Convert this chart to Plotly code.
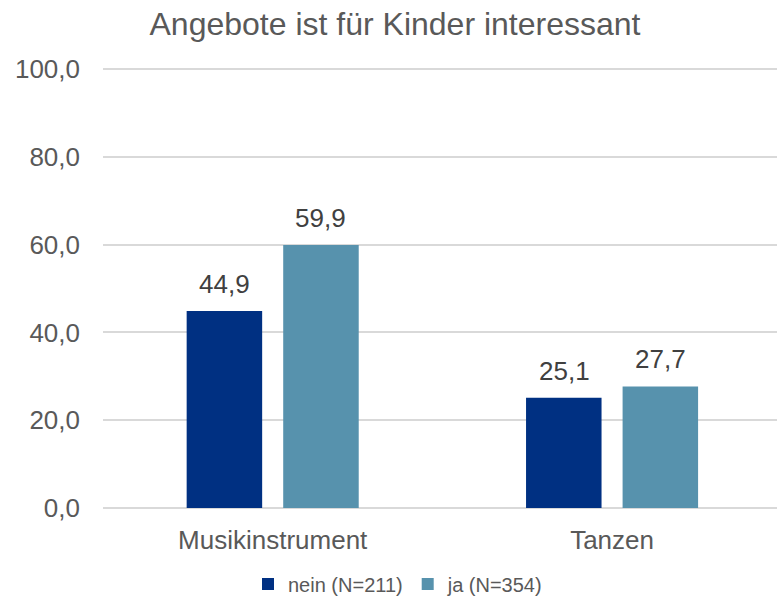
import plotly.graph_objects as go

categories = ["Musikinstrument", "Tanzen"]
nein_values = [44.9, 25.1]
ja_values = [59.9, 27.7]
series_names = ["nein (N=211)", "ja (N=354)"]
y_ticks = [0, 20, 40, 60, 80, 100]
y_tick_labels = ["0,0", "20,0", "40,0", "60,0", "80,0", "100,0"]
title_text = "Angebote ist für Kinder interessant"

C_NEIN = "#003082"
C_JA = "#5792AD"
FONT = "Liberation Sans, Arial, sans-serif"

def de(v):
    return f"{v:.1f}".replace(".", ",")

fig = go.Figure()
fig.add_trace(go.Bar(x=categories, y=nein_values, name=series_names[0],
                     marker=dict(color=C_NEIN, line=dict(width=0))))
fig.add_trace(go.Bar(x=categories, y=ja_values, name=series_names[1],
                     marker=dict(color=C_JA, line=dict(width=0))))

annotations = []
for vals, shift in ((nein_values, -48), (ja_values, 48)):
    for c, v in zip(categories, vals):
        annotations.append(dict(x=c, y=v, xref="x", yref="y", text=de(v),
                                showarrow=False, xshift=shift, yanchor="bottom",
                                yshift=10, font=dict(family=FONT, size=26, color="#404040")))

fig.update_layout(
    width=777, height=596,
    margin=dict(l=103, r=0, t=68, b=88, autoexpand=False),
    paper_bgcolor="white", plot_bgcolor="white",
    barmode="group", bargap=0.431, bargroupgap=0.218,
    font=dict(family=FONT, color="#595959"),
    title=dict(text=title_text, x=395/777, xref="container", xanchor="center",
               y=1 - 24/596, yref="container", yanchor="middle",
               font=dict(family=FONT, size=32, color="#595959")),
    xaxis=dict(range=[-0.5, 1.486], showgrid=False, showline=False, zeroline=False,
               ticks="", tickfont=dict(family=FONT, size=26, color="#595959"),
               ticklabelstandoff=14, automargin=False),
    yaxis=dict(range=[0, 100.25], tickvals=y_ticks, ticktext=y_tick_labels,
               showgrid=True, gridcolor="#d9d9d9", gridwidth=1.5,
               zeroline=True, zerolinecolor="#d9d9d9", zerolinewidth=1.5,
               showline=False, ticks="", ticklabelstandoff=22, automargin=False,
               tickfont=dict(family=FONT, size=26, color="#595959")),
    legend=dict(orientation="h", x=398/777, xref="container", xanchor="center",
                y=12/596, yref="container", yanchor="middle",
                font=dict(family=FONT, size=20, color="#595959"),
                itemwidth=30, traceorder="normal"),
    annotations=annotations,
)

fig.write_html("out.html", config={"displayModeBar": False},
               post_script="document.body.style.margin='0';")
